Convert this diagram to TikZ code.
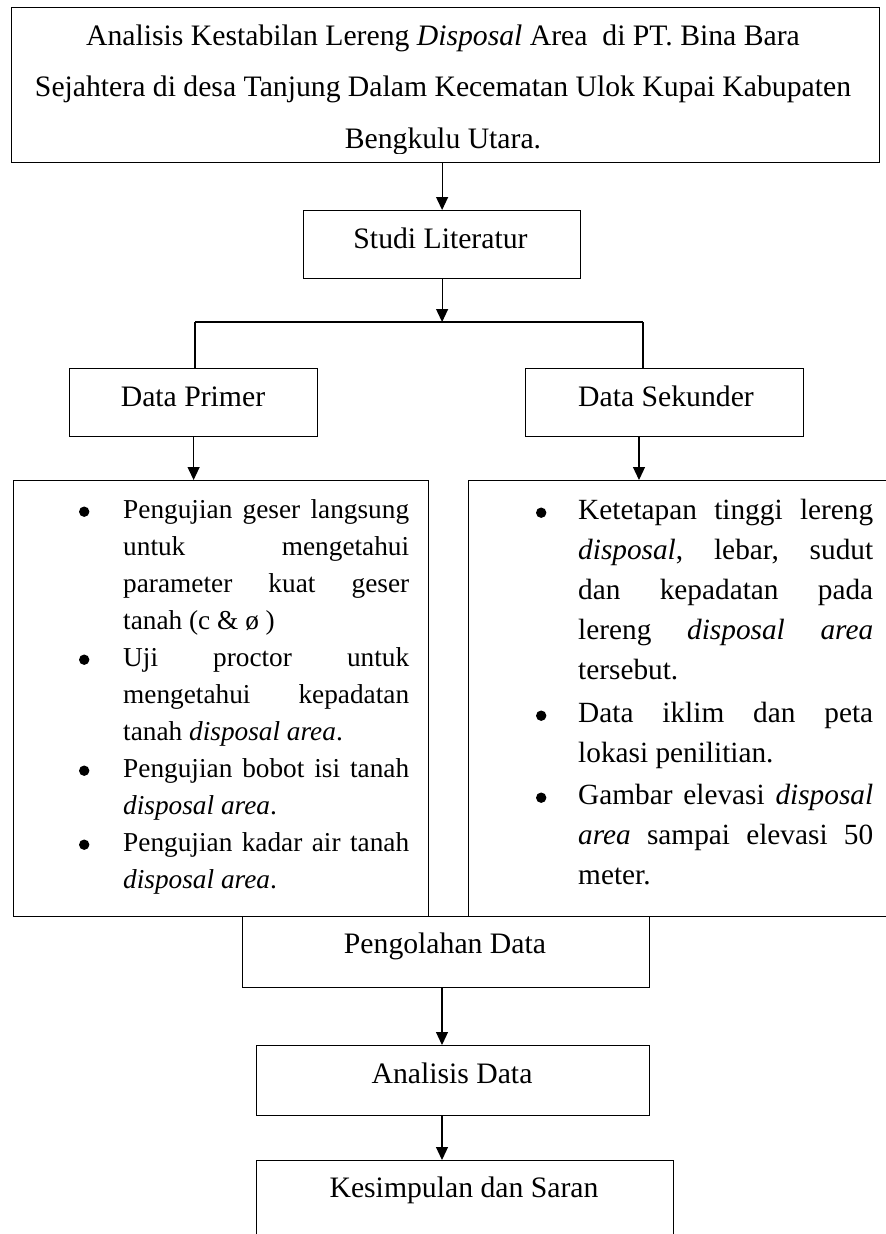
\documentclass[tikz,border=0pt]{standalone}
\usepackage{fontspec}
\usepackage{pict2e}
\setmainfont{Liberation Serif}
\usetikzlibrary{arrows.meta}
\newcommand\bigdot{\begin{picture}(0,0)\put(5,6.3){\circle*{10.4}}\end{picture}}
\newcommand\lbul{\leavevmode\llap{\makebox[44pt][l]{\bigdot}}}
\newcommand\rbul{\leavevmode\llap{\makebox[42pt][l]{\bigdot}}}
\begin{document}
\begin{tikzpicture}[x=1pt,y=-1pt,
  box/.style={draw, line width=1.2pt, rectangle, inner sep=0pt, anchor=north west},
  arr/.style={line width=1.2pt, -{Triangle[length=13pt,width=12pt]}},
  conn/.style={line width=1.2pt},
  lbl/.style={inner sep=0pt, anchor=base, font=\fontsize{29.7}{36}\selectfont}]
\useasboundingbox (0,0) rectangle (886,1234);
\clip (0,0) rectangle (886,1234);
% boxes
\node[box, minimum width=868pt, minimum height=155pt] (title) at (11,7) {};
\node[box, minimum width=277pt, minimum height=68pt] (studi) at (303,210) {};
\node[box, minimum width=248pt, minimum height=68pt] (primer) at (69,368) {};
\node[box, minimum width=278pt, minimum height=68pt] (sekunder) at (525,368) {};
\node[box, minimum width=415pt, minimum height=436pt] (lbox) at (13,480) {};
\node[box, minimum width=430pt, minimum height=436pt] (rbox) at (468,480) {};
\node[box, minimum width=407pt, minimum height=71pt] (olah) at (242,916) {};
\node[box, minimum width=393pt, minimum height=70pt] (analisis) at (256,1045) {};
\node[box, minimum width=417pt, minimum height=95pt] (simpul) at (256,1160) {};
% texts
\begin{scope}
\clip (0,0) rectangle (886,153);
\node[anchor=base, inner sep=0pt] (titletext) at (443,45) {\parbox[t]{860pt}{\fontsize{29.7}{51.7}\selectfont\centering
Analisis Kestabilan Lereng \textit{Disposal} Area\ \ di PT. Bina Bara\\
Sejahtera di desa Tanjung Dalam Kecematan Ulok Kupai Kabupaten\\
Bengkulu Utara.}};
\end{scope}
\node[lbl] (studitext) at (440.5,248) {Studi Literatur};
\node[lbl] (primertext) at (193,406) {Data Primer};
\node[lbl] (sekundertext) at (666,406) {Data Sekunder};
\node[lbl] (olahtext) at (445,953) {Pengolahan Data};
\node[lbl] (analisistext) at (452,1083) {Analisis Data};
\node[lbl] (simpultext) at (464,1197) {Kesimpulan dan Saran};
\node[anchor=base west, inner sep=0pt] (ltext) at (123,518) {\parbox[t]{286pt}{\fontsize{27.3}{37}\selectfont
\lbul Pengujian geser langsung\linebreak untuk mengetahui\linebreak parameter kuat geser\linebreak tanah (c \& ø )\par
\lbul Uji proctor untuk\linebreak mengetahui kepadatan\linebreak tanah \textit{disposal area}.\par
\lbul Pengujian bobot isi tanah\linebreak \textit{disposal area}.\par
\lbul Pengujian kadar air tanah\linebreak \textit{disposal area}.\par}};
\node[anchor=base west, inner sep=0pt] (rtext) at (578,519) {\parbox[t]{295pt}{\fontsize{29.3}{40}\selectfont
\rbul Ketetapan tinggi lereng\linebreak \textit{disposal}, lebar, sudut\linebreak dan kepadatan pada\linebreak lereng \textit{disposal area}\linebreak tersebut.\par\vspace{3pt}
\rbul Data iklim dan peta\linebreak lokasi penilitian.\par\vspace{2pt}
\rbul Gambar elevasi \textit{disposal}\linebreak \textit{area} sampai elevasi 50\linebreak meter.\par}};
% connectors
\coordinate (jl) at (195,322);
\coordinate (jr) at (643,322);
\coordinate (sk) at (639,436);
\coordinate (ax) at (442,987);
\draw[arr] (studi.north |- title.south) -- (studi.north);
\draw[arr] (studi.south) -- (studi.south |- jl);
\draw[conn] (jl) -- (jr);
\draw[conn] (jl) -- (jl |- primer.north);
\draw[conn] (jr) -- (jr |- sekunder.north);
\draw[arr] (primer.south) -- (primer.south |- lbox.north);
\draw[arr] (sk) -- (sk |- rbox.north);
\draw[arr] (ax) -- (ax |- analisis.north);
\draw[arr] (ax |- analisis.south) -- (ax |- simpul.north);
\end{tikzpicture}
\end{document}
